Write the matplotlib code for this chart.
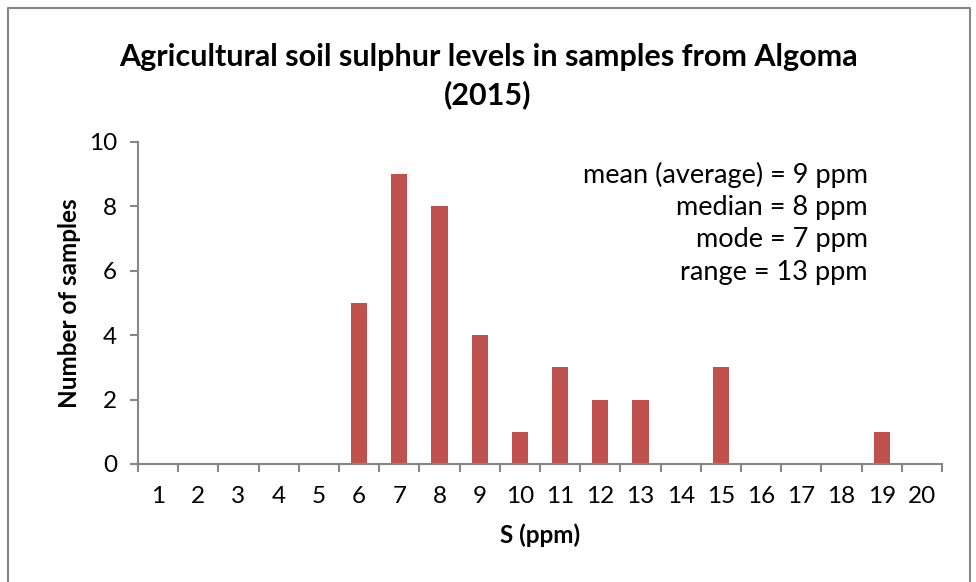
import matplotlib.pyplot as plt
from matplotlib.lines import Line2D

# Sulphur levels (ppm) and number of samples for each
sulphur = list(range(1, 21))
counts = [0, 0, 0, 0, 0, 5, 9, 8, 4, 1, 3, 2, 2, 0, 3, 0, 0, 0, 1, 0]

stats_lines = ['mean (average) = 9 ppm', 'median = 8 ppm', 'mode = 7 ppm', 'range = 13 ppm']

plt.rcParams['font.family'] = ['Lato', 'DejaVu Sans']
axis_grey = '#868686'

fig = plt.figure(figsize=(9.76, 5.82), dpi=100)
ax = fig.add_axes([138 / 976, 1 - 464 / 582, (942 - 138) / 976, (464 - 142) / 582])

ax.bar(sulphur, counts, width=0.4, color='#C0504D')

ax.set_xlim(0.5, 20.5)
ax.set_ylim(0, 10)
ax.set_yticks(range(0, 11, 2))
ax.set_xticks(sulphur)
ax.set_xticks([s + 0.5 for s in [0] + sulphur], minor=True)
ax.tick_params(axis='x', which='major', length=0, pad=16, labelsize=17.5)
ax.tick_params(axis='x', which='minor', length=6, width=1.5, color=axis_grey)
ax.tick_params(axis='y', length=6, width=1.5, color=axis_grey, labelsize=17.5, pad=9)

for side in ['top', 'right']:
    ax.spines[side].set_visible(False)
for side in ['left', 'bottom']:
    ax.spines[side].set_color(axis_grey)
    ax.spines[side].set_linewidth(1.5)

ax.set_xlabel('S (ppm)', fontsize=17.5, fontweight='bold', labelpad=12)
ax.set_ylabel('Number of samples', fontsize=17.5, fontweight='bold', labelpad=6)

fig.text(0.5, 1 - 76 / 582, 'Agricultural soil sulphur levels in samples from Algoma\n(2015)',
         ha='center', va='center', fontsize=22, fontweight='bold', linespacing=1.35)

for i, line in enumerate(stats_lines):
    fig.text(868 / 976, 1 - (175 + 32.5 * i) / 582, line, ha='right', va='center', fontsize=19.5)

# Chart border (open at the bottom, as in the cropped original)
bx0, bx1, by = 8 / 976, 970 / 976, 1 - 8 / 582
fig.add_artist(Line2D([bx0, bx0, bx1, bx1], [0, by, by, 0], color=axis_grey, linewidth=1.5))

fig.savefig('out.png', dpi=100)
